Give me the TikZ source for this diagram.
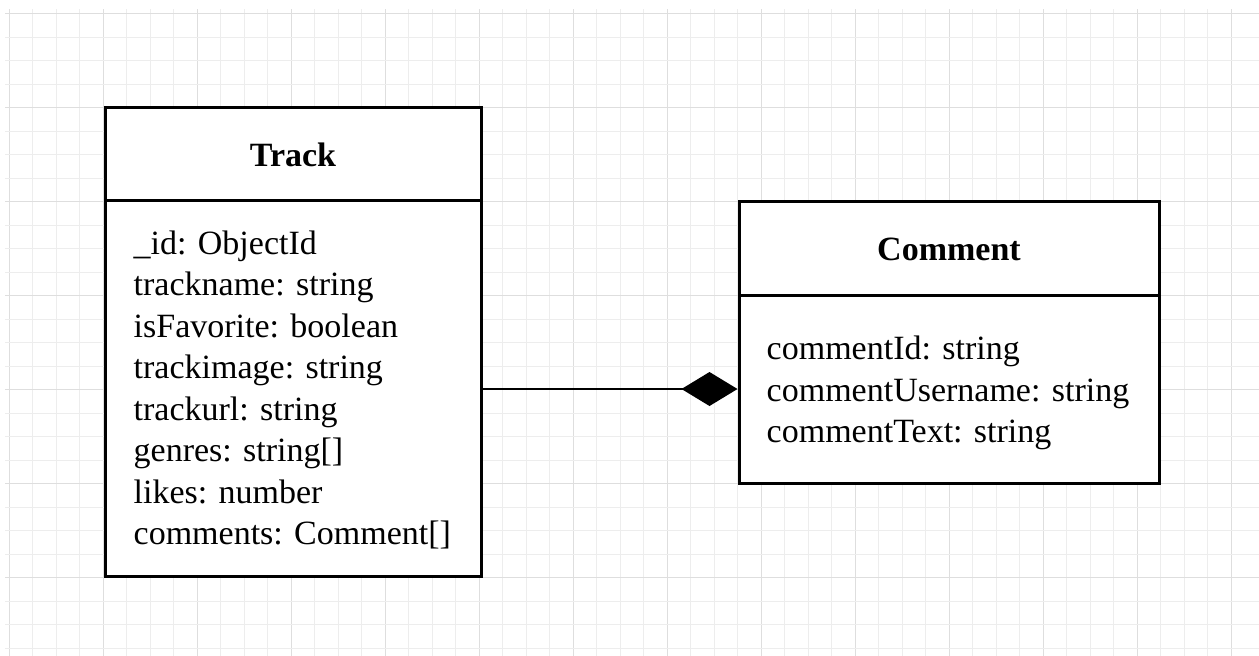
\documentclass[tikz,border=0pt]{standalone}
\usepackage{fontspec}
\setmainfont{Liberation Serif}
\usetikzlibrary{arrows.meta}
\begin{document}
\begin{tikzpicture}[x=1pt,y=-1pt,
  minorline/.style={draw=black!7,line width=1pt},
  majorline/.style={draw=black!13,line width=1pt},
  umlbox/.style={draw=black,line width=3pt,fill=white,rectangle,inner sep=0pt},
  headtext/.style={font=\fontsize{34}{40}\selectfont\bfseries},
  bodytext/.style={font=\fontsize{34}{41.5}\selectfont,align=left,inner sep=0pt,anchor=west},
  compose/.style={line width=2.8pt,-{Diamond[length=56pt,width=34pt]}}
]
\useasboundingbox (0,0) rectangle (1259,656);
\fill[white] (0,0) rectangle (1259,656);
% grid
\foreach \k in {0,...,52}{
  \pgfmathsetmacro\xx{9.3+23.5*\k}
  \pgfmathtruncatemacro\m{mod(\k,4)}
  \ifnum\m=0 \draw[majorline] (\xx,9) -- (\xx,656);
  \else \draw[minorline] (\xx,9) -- (\xx,656); \fi
}
\foreach \k in {0,...,27}{
  \pgfmathsetmacro\yy{13.7+23.5*\k}
  \pgfmathtruncatemacro\m{mod(\k,4)}
  \ifnum\m=0 \draw[majorline] (5,\yy) -- (1259,\yy);
  \else \draw[minorline] (5,\yy) -- (1259,\yy); \fi
}
% Track class
\node[umlbox,minimum width=376pt,minimum height=93pt] (trackhead) at (293,153.5) {};
\node[headtext] (tracktitle) at ([yshift=-1pt]trackhead.center) {Track};
\node[umlbox,minimum width=376pt,minimum height=376pt] (trackbody) at (293,388) {};
\node[bodytext] (trackattrs) at ([xshift=30pt,yshift=-2pt]trackbody.west) {\_id: ObjectId\\trackname: string\\isFavorite: boolean\\trackimage: string\\trackurl: string\\genres: string[]\\likes: number\\comments: Comment[]};
% Comment class
\node[umlbox,minimum width=420pt,minimum height=94pt] (commenthead) at (949,248) {};
\node[headtext] (commenttitle) at ([yshift=-1pt]commenthead.center) {Comment};
\node[umlbox,minimum width=420pt,minimum height=188pt] (commentbody) at (949,389) {};
\node[bodytext] (commentattrs) at ([xshift=29pt,yshift=-4pt]commentbody.west) {commentId: string\\commentUsername: string\\commentText: string};
% composition
\draw[compose] (trackbody.east |- commentbody.west) -- (commentbody.west);
\end{tikzpicture}
\end{document}
